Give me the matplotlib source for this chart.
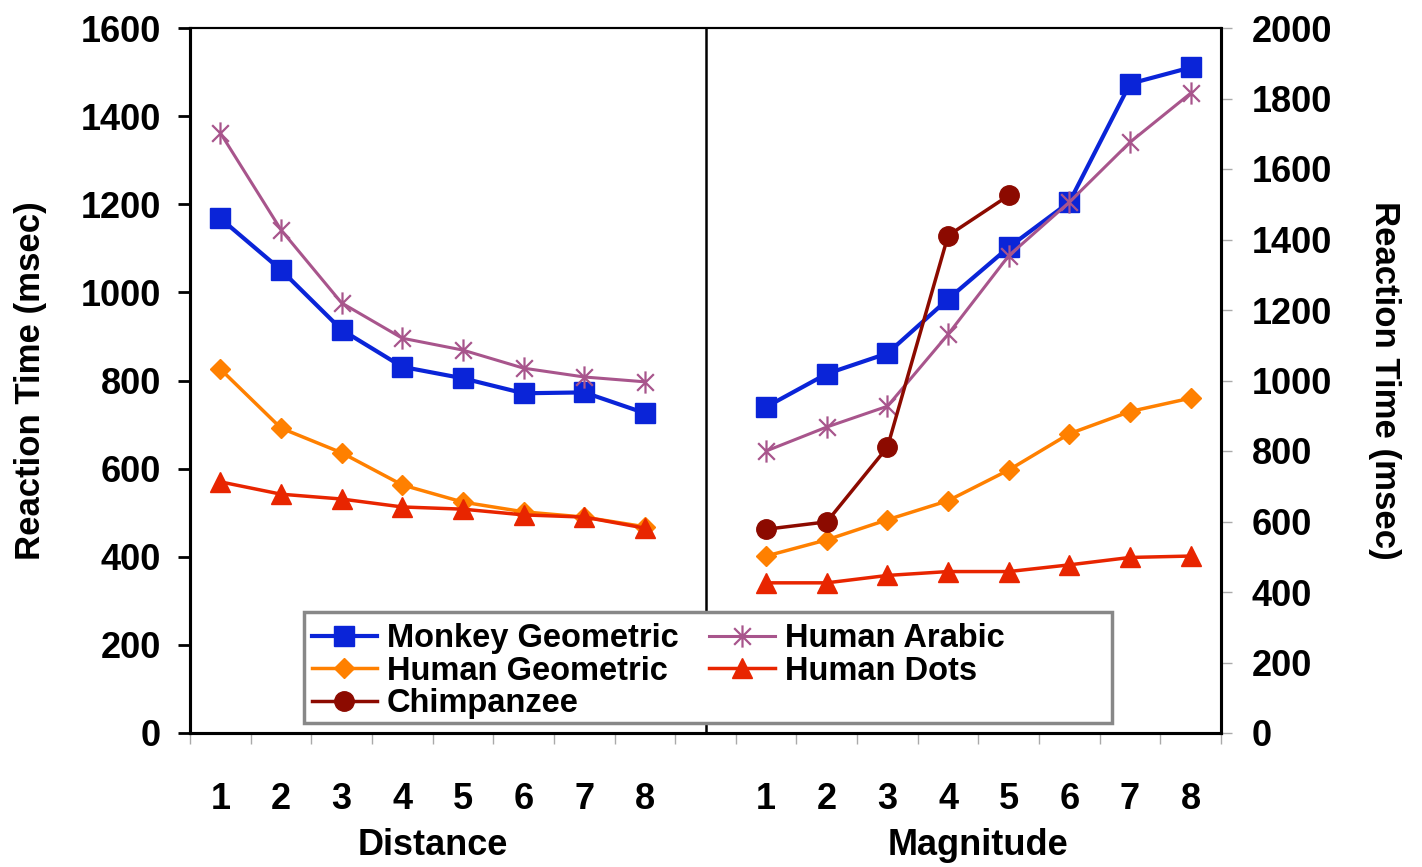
import numpy as np
import matplotlib
matplotlib.use("Agg")
import matplotlib.pyplot as plt
from matplotlib.path import Path
from matplotlib.patches import Rectangle

# data
categories = ["1", "2", "3", "4", "5", "6", "7", "8"]

# Distance panel (left axis, msec)
dist_monkey_geo = [1168, 1051, 915, 831, 805, 771, 773, 726]
dist_human_arabic = [1362, 1142, 976, 896, 869, 828, 808, 797]
dist_human_geo = [826, 692, 636, 563, 524, 502, 490, 468]
dist_human_dots = [570, 542, 531, 513, 508, 495, 490, 465]

# Magnitude panel (right axis, msec)
mag_monkey_geo = [925, 1019, 1077, 1231, 1378, 1506, 1842, 1888]
mag_human_arabic = [800, 868, 927, 1131, 1354, 1506, 1676, 1815]
mag_human_geo = [502, 548, 605, 659, 746, 849, 912, 950]
mag_human_dots = [426, 426, 447, 458, 458, 477, 498, 502]
mag_chimp = [578, 599, 811, 1411, 1525]

plt.rcParams['font.family'] = ['Liberation Sans', 'DejaVu Sans']
plt.rcParams['font.weight'] = 'bold'
plt.rcParams['axes.labelweight'] = 'bold'

W, H = 1422, 867
fig = plt.figure(figsize=(W / 100, H / 100), dpi=100)
ax = fig.add_axes([190 / W, (H - 733) / H, 1031 / W, 705 / H])
ax2 = ax.twinx()

xl = np.arange(8)          # left panel slots
xr = np.arange(8) + 9      # right panel slots (slot 8 is the gap)

# asterisk marker like the spreadsheet "star"
M, L = Path.MOVETO, Path.LINETO
star = Path([(0, -1), (0, 1), (-0.75, -0.75), (0.75, 0.75), (-0.75, 0.75), (0.75, -0.75)],
            [M, L, M, L, M, L])

c_blue = "#0a24d8"
c_purple = "#a8558c"
c_orange = "#ff8000"
c_red = "#e82500"
c_chimp = "#8c0a00"

sty_blue = dict(color=c_blue, lw=3, marker="s", ms=14)
sty_purple = dict(color=c_purple, lw=2.2, marker=star, ms=16, mew=1.6)
sty_orange = dict(color=c_orange, lw=2.5, marker="D", ms=10.5)
sty_red = dict(color=c_red, lw=2.5, marker="^", ms=14)
sty_chimp = dict(color=c_chimp, lw=2.5, marker="o", ms=14)

ax.plot(xl, dist_monkey_geo, **sty_blue)
ax.plot(xl, dist_human_arabic, **sty_purple)
ax.plot(xl, dist_human_geo, **sty_orange)
ax.plot(xl, dist_human_dots, **sty_red)

h1, = ax2.plot(xr, mag_monkey_geo, **sty_blue, label="Monkey Geometric")
h4, = ax2.plot(xr, mag_human_arabic, **sty_purple, label="Human Arabic")
h2, = ax2.plot(xr, mag_human_geo, **sty_orange, label="Human Geometric")
h5, = ax2.plot(xr, mag_human_dots, **sty_red, label="Human Dots")
h3, = ax2.plot(xr[:len(mag_chimp)], mag_chimp, **sty_chimp, label="Chimpanzee")

ax.axvline(8, color="black", lw=1.8)

ax.set_xlim(-0.5, 16.5)
ax.set_ylim(0, 1600)
ax2.set_ylim(0, 2000)
ax.set_yticks(np.arange(0, 1601, 200))
ax2.set_yticks(np.arange(0, 2001, 200))

ax.set_xticks(np.concatenate([xl, xr]))
ax.set_xticklabels(categories + categories)
ax.set_xticks(np.arange(-0.5, 17, 1), minor=True)
ax.tick_params(axis="x", which="major", length=0, pad=35, labelsize=26)
ax.tick_params(axis="x", which="minor", length=8, width=1, color="#aaaaaa", direction="out")
ax.tick_params(axis="y", length=9, width=2, labelsize=26, pad=12)
ax2.tick_params(axis="y", length=8, width=1, color="#aaaaaa", labelsize=26, pad=14)

for s in ["left", "bottom", "right"]:
    ax.spines[s].set_linewidth(2.2)
    ax2.spines[s].set_linewidth(2.2)
ax.spines["top"].set_linewidth(1.5)
ax2.spines["top"].set_linewidth(1.5)

ax.set_ylabel("Reaction Time (msec)", fontsize=25, labelpad=24)
ax2.set_ylabel("Reaction Time (msec)", fontsize=25, rotation=270, labelpad=50)

tr = ax.get_xaxis_transform()
ax.text(3.5, -0.16, "Distance", transform=tr, ha="center", va="center", fontsize=26)
ax.text(12.5, -0.16, "Magnitude", transform=tr, ha="center", va="center", fontsize=26)

# legend box
ax2.add_patch(Rectangle((0.1106, 0.0142), 0.7837, 0.1574, transform=ax2.transAxes,
                        facecolor="white", edgecolor="#888888", lw=2.5, zorder=4))
leg = ax2.legend(handles=[h1, h2, h3, h4, h5], ncol=2, loc="upper left",
                 bbox_to_anchor=(0.118, 0.156), frameon=False, fontsize=23.5,
                 labelspacing=0.05, handlelength=2.0, handletextpad=0.3,
                 columnspacing=0.95, borderpad=0, borderaxespad=0)
leg.set_zorder(5)

fig.savefig("out.png", dpi=100)
